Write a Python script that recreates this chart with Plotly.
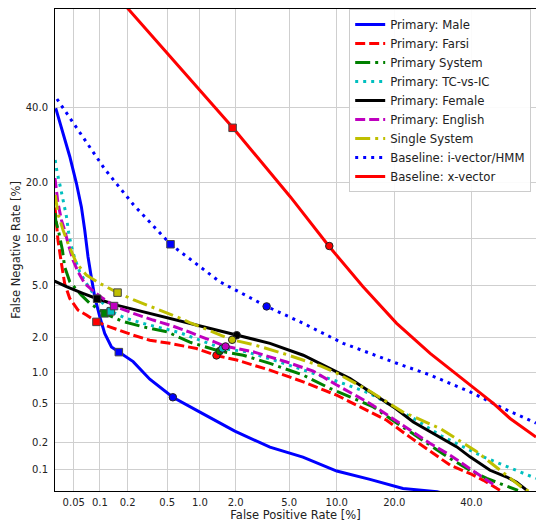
import plotly.graph_objects as go
from statistics import NormalDist

_nd = NormalDist()


def probit(values_pct):
    return [_nd.inv_cdf(v / 100.0) for v in values_pct]


# ---------------- data (percent) ----------------
series_names = [
    "Primary: Male", "Primary: Farsi", "Primary System", "Primary: TC-vs-IC",
    "Primary: Female", "Primary: English", "Single System",
    "Baseline: i-vector/HMM", "Baseline: x-vector",
]

male_fpr = [0.0304, 0.0373, 0.0449, 0.0538, 0.0615, 0.0672, 0.0733, 0.0802, 0.0874, 0.0995,
            0.113, 0.134, 0.161, 0.228, 0.337, 0.565, 1.0, 1.97, 3.66, 6.18, 10.0, 15.2,
            21.9, 30.3, 39.6]
male_fnr = [39.8, 32.5, 26.2, 19.85, 15.1, 11.25, 7.74, 5.6, 4.12, 2.92,
            2.15, 1.66, 1.5, 1.24, 0.86, 0.58, 0.414, 0.264, 0.178, 0.138, 0.096, 0.077,
            0.060, 0.055, 0.043]

farsi_fpr = [0.0298, 0.031, 0.0324, 0.0357, 0.039, 0.0449, 0.0562, 0.0703, 0.0914, 0.128,
             0.228, 0.337, 0.528, 0.933, 1.39, 2.04, 3.66, 6.21, 9.99, 13.5, 18.4, 23.5,
             28.5, 33.9, 39.6, 43.6, 47.7, 50.2]
farsi_fnr = [15.0, 12.3, 9.8, 7.0, 5.14, 4.01, 3.28, 3.01, 2.66, 2.43,
             2.08, 1.89, 1.78, 1.61, 1.40, 1.28, 1.04, 0.813, 0.608, 0.467, 0.343, 0.228,
             0.161, 0.112, 0.090, 0.075, 0.060, 0.052]

system_fpr = [0.0298, 0.0304, 0.0333, 0.0367, 0.039, 0.0449, 0.0615, 0.0767, 0.113, 0.172,
              0.288, 0.497, 0.811, 1.48, 2.30, 3.66, 6.21, 9.12, 11.9, 15.8, 19.1, 23.5,
              28.5, 33.9, 39.6, 44.6, 49.7, 54.1]
system_fnr = [14.0, 12.8, 10.8, 8.5, 6.66, 5.28, 4.24, 3.69, 3.10, 2.70,
              2.43, 2.22, 1.82, 1.53, 1.41, 1.195, 0.937, 0.705, 0.585, 0.467, 0.357, 0.259,
              0.187, 0.133, 0.098, 0.079, 0.066, 0.057]

tc_fpr = [0.0300, 0.0315, 0.0347, 0.038, 0.041, 0.0436, 0.047, 0.0514, 0.0588, 0.0703,
          0.0836, 0.132, 0.194, 0.288, 0.423, 0.657, 1.56, 2.44, 4.31, 7.2, 10.9, 15.2,
          19.8, 25.1, 31.1, 37.7, 43.6, 49.7, 55.7, 59.5]
tc_fnr = [25.3, 22.5, 19.0, 16.1, 13.4, 10.85, 8.94, 7.56, 6.15, 5.14,
          4.37, 3.21, 2.83, 2.59, 2.40, 2.18, 1.61, 1.51, 1.23, 0.971, 0.785, 0.631,
          0.467, 0.343, 0.239, 0.179, 0.139, 0.112, 0.090, 0.079]

female_fpr = [0.0295, 0.041, 0.064, 0.093, 0.152, 0.337, 0.568, 1.07, 2.04, 3.66, 6.21,
              9.12, 11.9, 15.2, 19.8, 24.3, 30.2, 35.8, 39.6, 45.6, 50.7, 53.7, 56.8]
female_fnr = [5.33, 4.87, 4.37, 3.99, 3.58, 3.10, 2.78, 2.43, 2.08, 1.78, 1.41,
              1.08, 0.874, 0.654, 0.467, 0.329, 0.239, 0.179, 0.139, 0.098, 0.082, 0.071, 0.057]

english_fpr = [0.0298, 0.031, 0.0324, 0.0357, 0.039, 0.0428, 0.049, 0.0562, 0.0672, 0.0802,
               0.0995, 0.143, 0.228, 0.364, 0.568, 0.811, 1.655, 2.74, 4.80, 7.2, 10.0,
               15.2, 19.1, 23.5, 28.5, 33.9, 39.6, 44.6, 47.6]
english_fnr = [21.0, 18.4, 15.8, 12.8, 11.25, 9.38, 7.37, 6.17, 5.14, 4.66,
               4.17, 3.52, 3.10, 2.75, 2.46, 2.20, 1.68, 1.51, 1.23, 1.02, 0.76,
               0.505, 0.371, 0.270, 0.195, 0.145, 0.103, 0.075, 0.063]

single_fpr = [0.0300, 0.0324, 0.0373, 0.0428, 0.0538, 0.0703, 0.0995, 0.156, 0.228, 0.393,
              0.612, 0.811, 1.22, 1.875, 2.74, 4.80, 7.93, 10.0, 15.2, 21.8, 31.1, 41.3,
              48.7, 55.0, 57.3]
single_fnr = [17.4, 13.9, 11.25, 9.38, 7.05, 5.86, 5.14, 4.42, 3.93, 3.38,
              2.92, 2.63, 2.27, 1.905, 1.74, 1.43, 1.14, 0.977, 0.664, 0.417, 0.282, 0.162,
              0.098, 0.063, 0.056]

ivec_fpr = [0.0315, 0.057, 0.113, 0.231, 0.537, 1.48, 3.46, 6.21, 10.9, 20.5, 28.5,
            39.6, 49.7, 59.5]
ivec_fnr = [42.6, 33.2, 23.1, 15.45, 9.26, 5.28, 3.5, 2.59, 1.78, 1.2, 0.94,
            0.654, 0.45, 0.32]

xvec_fpr = [0.15, 0.2, 0.5, 1.9, 5.1, 9.0, 14.0, 20.5, 28.5, 39.6, 46.6, 51.7, 59.5]
xvec_fnr = [73.5, 70.0, 56.8, 34.0, 17.0, 9.0, 4.87, 2.59, 1.46, 0.757, 0.505, 0.357, 0.229]

# operating points: minDCF (square) and EER (circle), percent
mindcf_fpr = [0.161, 0.0914, 0.113, 0.132, 0.093, 0.143, 0.156, 0.537, 1.89]
mindcf_fnr = [1.50, 2.66, 3.10, 3.21, 3.99, 3.52, 4.42, 9.26, 34.0]
eer_fpr = [0.565, 1.39, 1.48, 1.56, 2.04, 1.655, 1.875, 3.46, 9.04]
eer_fnr = [0.58, 1.405, 1.53, 1.61, 2.08, 1.677, 1.905, 3.50, 9.03]

x_tick_vals = [0.05, 0.1, 0.2, 0.5, 1.0, 2.0, 5.0, 10.0, 20.0, 40.0]
x_tick_text = ["0.05", "0.1", "0.2", "0.5", "1.0", "2.0", "5.0", "10.0", "20.0", "40.0"]
y_tick_vals = [0.1, 0.2, 0.5, 1.0, 2.0, 5.0, 10.0, 20.0, 40.0]
y_tick_text = ["0.1", "0.2", "0.5", "1.0", "2.0", "5.0", "10.0", "20.0", "40.0"]

x_limits = [0.0298, 59.5]
y_limits = [0.056, 69.8]

# ---------------- styles ----------------
curves = [
    (male_fpr, male_fnr), (farsi_fpr, farsi_fnr), (system_fpr, system_fnr),
    (tc_fpr, tc_fnr), (female_fpr, female_fnr), (english_fpr, english_fnr),
    (single_fpr, single_fnr), (ivec_fpr, ivec_fnr), (xvec_fpr, xvec_fnr),
]
colors = ["#0000ff", "#ff0000", "#008000", "#00bfbf", "#000000", "#bf00bf",
          "#bfbf00", "#0000ff", "#ff0000"]
dashes = ["solid", "10px,4px", "15px,5px,3px,5px", "3px,5px", "solid", "10px,4px",
          "15px,5px,3px,5px", "3px,5px", "solid"]
LW = 3

fig = go.Figure()
for (fx, fy), name, col, dsh in zip(curves, series_names, colors, dashes):
    fig.add_trace(go.Scatter(
        x=probit(fx), y=probit(fy), mode="lines", name=name,
        line=dict(color=col, width=LW, dash=dsh),
    ))

for i, col in enumerate(colors):
    fig.add_trace(go.Scatter(
        x=probit([mindcf_fpr[i]]), y=probit([mindcf_fnr[i]]), mode="markers",
        marker=dict(symbol="square", size=7.5, color=col, line=dict(color="#444", width=1)),
        showlegend=False, hoverinfo="skip",
    ))
    fig.add_trace(go.Scatter(
        x=probit([eer_fpr[i]]), y=probit([eer_fnr[i]]), mode="markers",
        marker=dict(symbol="circle", size=7.5, color=col, line=dict(color="#222", width=1)),
        showlegend=False, hoverinfo="skip",
    ))

font_family = "DejaVu Sans"
fig.update_layout(
    width=536, height=522,
    margin=dict(l=55, r=0, t=9, b=31),
    paper_bgcolor="white", plot_bgcolor="white",
    font=dict(family=font_family, size=10, color="#222"),
    showlegend=True,
    legend=dict(
        x=0.99, y=1.0, xanchor="right", yanchor="top",
        bgcolor="rgba(255,255,255,0.9)", bordercolor="#cccccc", borderwidth=1,
        font=dict(family=font_family, size=11.7, color="#222"),
        tracegroupgap=0, itemwidth=30,
    ),
    xaxis=dict(
        range=probit(x_limits), tickmode="array",
        tickvals=probit(x_tick_vals), ticktext=x_tick_text,
        showgrid=True, gridcolor="#cfcfcf", gridwidth=1.4,
        showline=True, linecolor="black", linewidth=1, mirror=True,
        zeroline=False, ticks="", automargin=False, ticklabelstandoff=2,
        title=dict(text="False Positive Rate [%]", font=dict(size=11.5), standoff=1),
    ),
    yaxis=dict(
        range=probit(y_limits), tickmode="array",
        tickvals=probit(y_tick_vals), ticktext=y_tick_text,
        showgrid=True, gridcolor="#cfcfcf", gridwidth=1.4,
        showline=True, linecolor="black", linewidth=1, mirror=False,
        zeroline=False, ticks="", automargin=False, ticklabelstandoff=4,
        title=dict(text="False Negative Rate [%]", font=dict(size=11.5), standoff=2),
    ),
)

fig.write_html("out.html", config={"displayModeBar": False},
               post_script="document.body.style.margin='0';")
